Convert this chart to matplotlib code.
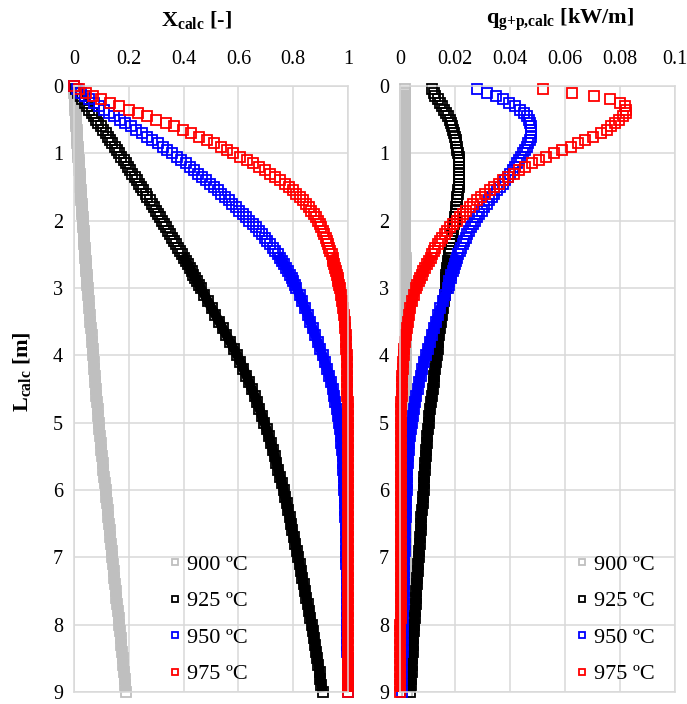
import numpy as np
import matplotlib
matplotlib.use('Agg')
import matplotlib.pyplot as plt

plt.rcParams['font.family'] = 'Liberation Serif'
plt.rcParams['mathtext.fontset'] = 'custom'
plt.rcParams['mathtext.rm'] = 'Liberation Serif'
plt.rcParams['mathtext.bf'] = 'Liberation Serif:bold'
plt.rcParams['mathtext.it'] = 'Liberation Serif:italic'

nan = np.nan

# reactor length positions [m] (finer in the first 3 m)
L_calc = [0.0, 0.05, 0.1, 0.15, 0.2, 0.25, 0.3, 0.35, 0.4, 0.45, 0.5,
          0.55, 0.6, 0.65, 0.7, 0.75, 0.8, 0.85, 0.9, 0.95, 1.0,
          1.05, 1.1, 1.15, 1.2, 1.25, 1.3, 1.35, 1.4, 1.45, 1.5,
          1.55, 1.6, 1.65, 1.7, 1.75, 1.8, 1.85, 1.9, 1.95, 2.0,
          2.05, 2.1, 2.15, 2.2, 2.25, 2.3, 2.35, 2.4, 2.45, 2.5,
          2.55, 2.6, 2.65, 2.7, 2.75, 2.8, 2.85, 2.9, 2.95, 3.0,
          3.1, 3.2, 3.3, 3.4, 3.5, 3.6, 3.7, 3.8, 3.9, 4.0,
          4.1, 4.2, 4.3, 4.4, 4.5, 4.6, 4.7, 4.8, 4.9, 5.0,
          5.1, 5.2, 5.3, 5.4, 5.5, 5.6, 5.7, 5.8, 5.9, 6.0,
          6.1, 6.2, 6.3, 6.4, 6.5, 6.6, 6.7, 6.8, 6.9, 7.0,
          7.1, 7.2, 7.3, 7.4, 7.5, 7.6, 7.7, 7.8, 7.9, 8.0,
          8.1, 8.2, 8.3, 8.4, 8.5, 8.6, 8.7, 8.8, 8.9, 9.0]

# conversion X_calc [-]
X_900 = [0, 0.0007, 0.0015, 0.0022, 0.003, 0.0037, 0.0045, 0.0052, 0.006, 0.0067, 0.0075,
         0.0082, 0.009, 0.0097, 0.0105, 0.0112, 0.012, 0.0127, 0.0135, 0.0142, 0.015,
         0.0158, 0.0167, 0.0175, 0.0184, 0.0192, 0.0201, 0.0209, 0.0218, 0.0226, 0.0235,
         0.0243, 0.0252, 0.026, 0.0269, 0.0277, 0.0286, 0.0294, 0.0303, 0.0311, 0.032,
         0.0329, 0.0338, 0.0347, 0.0356, 0.0365, 0.0374, 0.0383, 0.0392, 0.0401, 0.041,
         0.0419, 0.0428, 0.0437, 0.0446, 0.0455, 0.0464, 0.0473, 0.0482, 0.0491, 0.050,
         0.052, 0.054, 0.056, 0.058, 0.060, 0.062, 0.064, 0.066, 0.068, 0.070,
         0.072, 0.074, 0.076, 0.078, 0.080, 0.082, 0.084, 0.086, 0.088, 0.090,
         0.0925, 0.095, 0.0975, 0.100, 0.1025, 0.105, 0.1075, 0.110, 0.1125, 0.115,
         0.1175, 0.120, 0.1225, 0.125, 0.1275, 0.130, 0.1325, 0.135, 0.1375, 0.140,
         0.1425, 0.145, 0.1475, 0.150, 0.1525, 0.155, 0.1575, 0.160, 0.1625, 0.165,
         0.1675, 0.170, 0.1725, 0.175, 0.1775, 0.180, 0.1825, 0.185, 0.1875, 0.190]
X_925 = [0, 0.007, 0.015, 0.023, 0.031, 0.039, 0.048, 0.056, 0.064, 0.073, 0.081,
         0.089, 0.098, 0.106, 0.115, 0.123, 0.131, 0.140, 0.148, 0.157, 0.165,
         0.173, 0.181, 0.189, 0.197, 0.205, 0.213, 0.221, 0.229, 0.237, 0.245,
         0.253, 0.261, 0.268, 0.276, 0.284, 0.292, 0.300, 0.307, 0.315, 0.322,
         0.330, 0.337, 0.344, 0.351, 0.359, 0.366, 0.373, 0.380, 0.387, 0.394,
         0.401, 0.408, 0.415, 0.422, 0.429, 0.435, 0.442, 0.449, 0.456, 0.462,
         0.476, 0.489, 0.503, 0.516, 0.530, 0.543, 0.556, 0.570, 0.583, 0.596,
         0.607, 0.618, 0.629, 0.639, 0.649, 0.659, 0.668, 0.677, 0.686, 0.695,
         0.703, 0.710, 0.718, 0.725, 0.732, 0.739, 0.746, 0.752, 0.759, 0.765,
         0.770, 0.776, 0.781, 0.787, 0.792, 0.797, 0.803, 0.808, 0.813, 0.818,
         0.823, 0.828, 0.833, 0.838, 0.843, 0.848, 0.853, 0.858, 0.863, 0.868,
         0.872, 0.876, 0.880, 0.884, 0.888, 0.892, 0.896, 0.899, 0.903, 0.907]
X_950 = [0, 0.010, 0.024, 0.040, 0.056, 0.073, 0.091, 0.109, 0.128, 0.147, 0.167,
         0.187, 0.207, 0.227, 0.247, 0.266, 0.286, 0.305, 0.323, 0.341, 0.359,
         0.376, 0.392, 0.408, 0.423, 0.438, 0.453, 0.468, 0.482, 0.496, 0.510,
         0.524, 0.538, 0.552, 0.565, 0.578, 0.591, 0.604, 0.616, 0.628, 0.640,
         0.652, 0.663, 0.674, 0.685, 0.696, 0.706, 0.716, 0.725, 0.734, 0.743,
         0.751, 0.759, 0.767, 0.774, 0.781, 0.788, 0.794, 0.800, 0.806, 0.812,
         0.823, 0.833, 0.843, 0.853, 0.862, 0.871, 0.880, 0.889, 0.898, 0.907,
         0.915, 0.923, 0.931, 0.938, 0.944, 0.949, 0.954, 0.959, 0.964, 0.968,
         0.971, 0.974, 0.976, 0.978, 0.980, 0.982, 0.983, 0.985, 0.986, 0.987,
         0.988, 0.988, 0.989, 0.990, 0.991, 0.991, 0.992, 0.993, 0.993, 0.994,
         0.994, 0.995, 0.995, 0.995, 0.996, 0.996, 0.996, 0.997, 0.997, 0.997,
         0.998, 0.998, 0.998, 0.998, 0.999, 0.999, 0.999, 0.999, 0.999, 0.999]
X_975 = [0, 0.018, 0.043, 0.070, 0.100, 0.133, 0.165, 0.200, 0.235, 0.268, 0.300,
         0.335, 0.366, 0.398, 0.428, 0.457, 0.484, 0.510, 0.535, 0.558, 0.582,
         0.606, 0.630, 0.653, 0.676, 0.697, 0.717, 0.735, 0.753, 0.769, 0.785,
         0.799, 0.812, 0.824, 0.836, 0.847, 0.857, 0.866, 0.875, 0.883, 0.890,
         0.897, 0.903, 0.909, 0.914, 0.919, 0.924, 0.928, 0.932, 0.936, 0.940,
         0.944, 0.947, 0.950, 0.953, 0.956, 0.959, 0.962, 0.964, 0.967, 0.969,
         0.974, 0.978, 0.982, 0.985, 0.988, 0.990, 0.992, 0.993, 0.994, 0.995,
         0.996, 0.997, 0.997, 0.998, 0.998, 0.998, 0.999, 0.999, 0.999, 0.999,
         0.999, 1.0, 1.0, 1.0, 1.0, 1.0, 1.0, 1.0, 1.0, 1.0,
         1.0, 1.0, 1.0, 1.0, 1.0, 1.0, 1.0, 1.0, 1.0, 1.0,
         1.0, 1.0, 1.0, 1.0, 1.0, 1.0, 1.0, 1.0, 1.0, 1.0,
         1.0, 1.0, 1.0, 1.0, 1.0, 1.0, 1.0, 1.0, 1.0, 1.0]

# heat flux q_g+p,calc [kW/m]
q_900 = [nan, 0.0019, 0.0019, 0.0019, 0.0019, 0.0019, 0.0019, 0.0019, 0.0019, 0.0019, 0.0019,
         0.0019, 0.0019, 0.0019, 0.0019, 0.0019, 0.0019, 0.0019, 0.0019, 0.0019, 0.0019,
         0.0019, 0.0019, 0.0019, 0.0019, 0.0019, 0.0019, 0.0019, 0.0019, 0.0019, 0.0020,
         0.0020, 0.0020, 0.0020, 0.0020, 0.0020, 0.0020, 0.0020, 0.0020, 0.0020, 0.0020,
         0.0020, 0.0020, 0.0020, 0.0020, 0.0020, 0.0020, 0.0020, 0.0020, 0.0020, 0.0020,
         0.0021, 0.0021, 0.0021, 0.0021, 0.0021, 0.0021, 0.0021, 0.0021, 0.0021, 0.0021,
         0.0021, 0.0021, 0.0021, 0.0021, 0.0021, 0.0021, 0.0021, 0.0021, 0.0021, 0.0021,
         0.0021, 0.0021, 0.0021, 0.0022, 0.0022, 0.0022, 0.0022, 0.0022, 0.0022, 0.0022,
         0.0022, 0.0022, 0.0022, 0.0022, 0.0023, 0.0023, 0.0023, 0.0023, 0.0023, 0.0023,
         0.0023, 0.0023, 0.0023, 0.0023, 0.0023, 0.0023, 0.0023, 0.0023, 0.0023, 0.0023,
         0.0024, 0.0024, 0.0024, 0.0024, 0.0024, 0.0024, 0.0024, 0.0024, 0.0024, 0.0024,
         0.0024, 0.0024, 0.0024, 0.0024, 0.0025, 0.0025, 0.0025, 0.0025, 0.0025, 0.0025]
q_925 = [nan, 0.0116, 0.0122, 0.0129, 0.0137, 0.0146, 0.0154, 0.0161, 0.0168, 0.0175, 0.0181,
         0.0186, 0.0190, 0.0194, 0.0197, 0.0200, 0.0203, 0.0205, 0.0207, 0.0209, 0.0211,
         0.0213, 0.0214, 0.0215, 0.0216, 0.0216, 0.0216, 0.0216, 0.0215, 0.0214, 0.0213,
         0.0212, 0.0210, 0.0209, 0.0207, 0.0206, 0.0204, 0.0203, 0.0202, 0.0201, 0.0199,
         0.0197, 0.0194, 0.0192, 0.0190, 0.0188, 0.0186, 0.0184, 0.0182, 0.0180, 0.0178,
         0.0177, 0.0175, 0.0174, 0.0172, 0.0171, 0.0169, 0.0168, 0.0167, 0.0167, 0.0166,
         0.0162, 0.0159, 0.0156, 0.0153, 0.0150, 0.0146, 0.0143, 0.0140, 0.0137, 0.0134,
         0.0131, 0.0128, 0.0125, 0.0122, 0.0119, 0.0116, 0.0113, 0.0110, 0.0107, 0.0104,
         0.0102, 0.0100, 0.0098, 0.0096, 0.0094, 0.0092, 0.0090, 0.0089, 0.0087, 0.0086,
         0.0084, 0.0082, 0.0080, 0.0078, 0.0077, 0.0075, 0.0073, 0.0071, 0.0069, 0.0068,
         0.0066, 0.0065, 0.0063, 0.0062, 0.0060, 0.0059, 0.0057, 0.0055, 0.0054, 0.0052,
         0.0051, 0.0049, 0.0048, 0.0046, 0.0045, 0.0043, 0.0042, 0.0040, 0.0039, 0.0037]
q_950 = [nan, 0.0280, 0.0317, 0.0350, 0.0376, 0.0398, 0.0418, 0.0436, 0.0451, 0.0461, 0.0468,
         0.0473, 0.0477, 0.0478, 0.0478, 0.0476, 0.0471, 0.0466, 0.0461, 0.0455, 0.0448,
         0.0441, 0.0434, 0.0427, 0.0419, 0.0410, 0.0401, 0.0392, 0.0383, 0.0374, 0.0364,
         0.0354, 0.0343, 0.0334, 0.0324, 0.0315, 0.0306, 0.0297, 0.0288, 0.0280, 0.0272,
         0.0265, 0.0258, 0.0252, 0.0245, 0.0239, 0.0233, 0.0228, 0.0222, 0.0217, 0.0212,
         0.0208, 0.0203, 0.0199, 0.0195, 0.0191, 0.0187, 0.0184, 0.0180, 0.0177, 0.0173,
         0.0165, 0.0156, 0.0147, 0.0139, 0.0131, 0.0123, 0.0115, 0.0108, 0.0101, 0.0094,
         0.0087, 0.0081, 0.0075, 0.0069, 0.0064, 0.0059, 0.0054, 0.0050, 0.0046, 0.0042,
         0.0039, 0.0036, 0.0034, 0.0032, 0.0030, 0.0029, 0.0027, 0.0026, 0.0025, 0.0024,
         0.0023, 0.0022, 0.0021, 0.0021, 0.0020, 0.0019, 0.0018, 0.0018, 0.0017, 0.0016,
         0.0016, 0.0015, 0.0015, 0.0014, 0.0014, 0.0013, 0.0013, 0.0012, 0.0012, 0.0011,
         0.0011, 0.0011, 0.0010, 0.0010, 0.0009, 0.0009, 0.0009, 0.0008, 0.0008, 0.0007]
q_975 = [nan, 0.0520, 0.0626, 0.0707, 0.0762, 0.0799, 0.0817, 0.0823, 0.0820, 0.0810, 0.0797,
         0.0782, 0.0768, 0.0752, 0.0730, 0.0701, 0.0674, 0.0646, 0.0620, 0.0590, 0.0560,
         0.0532, 0.0505, 0.0480, 0.0455, 0.0434, 0.0414, 0.0394, 0.0375, 0.0359, 0.0343,
         0.0326, 0.0309, 0.0294, 0.0279, 0.0266, 0.0253, 0.0240, 0.0228, 0.0217, 0.0206,
         0.0194, 0.0183, 0.0172, 0.0162, 0.0153, 0.0145, 0.0137, 0.0129, 0.0123, 0.0117,
         0.0111, 0.0105, 0.0098, 0.0092, 0.0085, 0.0079, 0.0073, 0.0068, 0.0063, 0.0059,
         0.0051, 0.0044, 0.0038, 0.0033, 0.0029, 0.0025, 0.0022, 0.0018, 0.0015, 0.0013,
         0.0011, 0.0010, 0.0009, 0.0008, 0.0007, 0.0006, 0.0005, 0.0005, 0.0004, 0.0004,
         0.0004, 0.0003, 0.0003, 0.0003, 0.0003, 0.0003, 0.0003, 0.0003, 0.0003, 0.0003,
         0.0003, 0.0003, 0.0003, 0.0003, 0.0003, 0.0002, 0.0002, 0.0002, 0.0002, 0.0002,
         0.0002, 0.0002, 0.0002, 0.0002, 0.0002, 0.0002, 0.0002, 0.0002, 0.0002, 0.0001,
         0.0001, 0.0001, 0.0001, 0.0001, 0.0001, 0.0001, 0.0001, 0.0001, 0.0001, 0.0001]

labels = ['900 \u00baC', '925 \u00baC', '950 \u00baC', '975 \u00baC']
colors = ['#bfbfbf', '#000000', '#0000ff', '#ff0000']

X_ticks = [0, 0.2, 0.4, 0.6, 0.8, 1]
X_ticklabels = ['0', '0.2', '0.4', '0.6', '0.8', '1']
q_ticks = [0, 0.02, 0.04, 0.06, 0.08, 0.1]
q_ticklabels = ['0', '0.02', '0.04', '0.06', '0.08', '0.1']
L_ticks = [0, 1, 2, 3, 4, 5, 6, 7, 8, 9]

# length from which the overlapping markers of each series merge into a solid band
band_from = [0.0, 2.5, 2.5, 2.5]

W, H = 687, 704
fig = plt.figure(figsize=(W / 100, H / 100), dpi=100)
ax1 = fig.add_axes([74 / W, 12 / H, 274 / W, 606 / H])
ax2 = fig.add_axes([400 / W, 12 / H, 275 / W, 606 / H])


def style_axis(ax, ticks, ticklabels, xmax):
    ax.set_xlim(0, xmax)
    ax.set_ylim(9, 0)
    ax.xaxis.tick_top()
    ax.set_xticks(ticks)
    ax.set_xticklabels(ticklabels)
    ax.set_yticks(L_ticks)
    ax.tick_params(axis='x', length=0, labelsize=14.5, pad=12)
    ax.tick_params(axis='y', length=0, labelsize=14.5, pad=8)
    ax.grid(True, color='#d9d9d9', linewidth=1.1)
    ax.set_axisbelow(True)
    for sp in ax.spines.values():
        sp.set_color('#d9d9d9')
        sp.set_linewidth(1.1)


panels = [(ax1, [X_900, X_925, X_950, X_975], X_ticks, X_ticklabels, 1.0, 0.343),
          (ax2, [q_900, q_925, q_950, q_975], q_ticks, q_ticklabels, 0.1, 0.637)]

for ax, series, ticks, ticklabels, xmax, leg_x in panels:
    style_axis(ax, ticks, ticklabels, xmax)
    for vals, col, lab, l0 in zip(series, colors, labels, band_from):
        i0 = L_calc.index(l0)
        ax.plot(vals[i0:], L_calc[i0:], '-', color=col, lw=7.2,
                solid_capstyle='butt', clip_on=False)
        ax.plot(vals, L_calc, 's', mfc='none', mec=col, ms=7, mew=1.3,
                linestyle='none', label=lab, clip_on=False)
    ax.legend(loc='center left', bbox_to_anchor=(leg_x, 0.12), frameon=False,
              fontsize=16, markerscale=0.7, handlelength=0.6, handletextpad=0.25,
              borderpad=0, borderaxespad=0, labelspacing=0.72)

fig.text(196 / W, 1 - 20 / H, r'$\mathbf{X_{calc}}$ [-]', ha='center', va='center',
         fontsize=16, fontweight='bold')
fig.text(560 / W, 1 - 20 / H, r'$\mathbf{q_{g{+}p{,}calc}}$ [kW/m]', ha='center', va='center',
         fontsize=16, fontweight='bold')
fig.text(22 / W, 1 - 372 / H, r'$\mathbf{L_{calc}}$ [m]', ha='center', va='center',
         fontsize=16, fontweight='bold', rotation=90)

fig.savefig('out.png', dpi=100)
